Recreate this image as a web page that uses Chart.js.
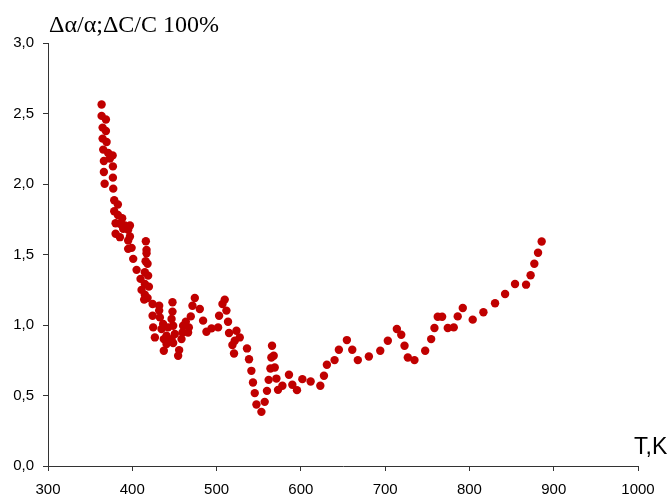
<!DOCTYPE html>
<html>
<head>
<meta charset="utf-8">
<script src="https://cdn.jsdelivr.net/npm/chart.js@4/dist/chart.umd.min.js"></script>
<style>
  html, body { margin: 0; padding: 0; background: #fff; }
  #wrap { width: 671px; height: 497px; position: relative; }
</style>
</head>
<body>
<div id="wrap"><canvas id="c"></canvas></div>
<script>
// T, K
const temps = [
  363.6, 363.6, 368.7, 364.8, 368.7, 364.8, 369.5, 365.5, 371.4, 376.7,
  366.3, 373.5, 377.0, 366.3, 377.0, 367.2, 377.4, 378.6, 382.9, 378.6,
  382.9, 388.0, 380.2, 385.3, 391.2, 397.2, 389.2, 395.1, 380.2, 385.3,
  397.2, 395.1, 416.1, 395.1, 399.2, 416.9, 416.9, 401.1, 415.8, 418.1,
  405.1, 414.9, 418.8, 409.8, 414.9, 419.7, 411.0, 414.9, 418.1, 414.1,
  424.1, 431.9, 431.9, 447.7, 447.7, 474.2, 471.4, 480.1, 509.7, 507.0,
  511.7, 424.1, 432.7, 446.6, 469.4, 503.0, 484.0, 513.6, 424.8, 436.6,
  448.5, 463.5, 460.3, 434.7, 442.5, 467.1, 466.2, 501.8, 494.0, 488.0,
  426.8, 440.6, 450.5, 459.6, 514.8, 523.6, 437.4, 446.6, 458.4, 527.5,
  521.6, 518.8, 440.6, 448.5, 455.6, 437.4, 454.4, 520.7, 536.1, 538.5,
  541.3, 543.2, 545.3, 547.3, 553.2, 557.1, 559.8, 561.8, 563.9, 569.0,
  565.0, 567.8, 565.8, 571.0, 572.9, 578.1, 585.9, 589.9, 595.4, 601.8,
  611.6, 623.1, 627.4, 630.9, 640.0, 645.1, 654.6, 661.0, 667.6, 680.7,
  694.2, 703.2, 713.9, 719.1, 723.0, 726.9, 734.8, 747.5, 754.6, 758.5,
  762.4, 767.6, 774.3, 781.4, 786.1, 792.1, 803.9, 816.6, 830.4, 842.3,
  854.1, 867.2, 872.6, 877.0, 881.4, 885.7
];
// Δα/α ; ΔC/C, 100%
const ratios = [
  2.564, 2.483, 2.457, 2.400, 2.376, 2.322, 2.298, 2.244, 2.220, 2.203,
  2.163, 2.180, 2.125, 2.085, 2.045, 2.002, 1.967, 1.885, 1.855, 1.807,
  1.780, 1.757, 1.722, 1.718, 1.706, 1.706, 1.682, 1.675, 1.647, 1.623,
  1.628, 1.599, 1.594, 1.540, 1.547, 1.533, 1.509, 1.469, 1.452, 1.434,
  1.391, 1.374, 1.350, 1.327, 1.291, 1.272, 1.249, 1.215, 1.192, 1.180,
  1.149, 1.137, 1.102, 1.161, 1.095, 1.192, 1.137, 1.114, 1.180, 1.149,
  1.102, 1.066, 1.054, 1.043, 1.061, 1.066, 1.031, 1.023, 0.983, 1.007,
  0.995, 1.023, 0.995, 0.972, 0.983, 0.983, 0.947, 0.983, 0.976, 0.952,
  0.912, 0.924, 0.936, 0.947, 0.943, 0.959, 0.900, 0.900, 0.900, 0.912,
  0.888, 0.858, 0.865, 0.872, 0.822, 0.817, 0.782, 0.798, 0.834, 0.757,
  0.675, 0.592, 0.517, 0.436, 0.384, 0.455, 0.533, 0.611, 0.692, 0.699,
  0.770, 0.782, 0.853, 0.620, 0.540, 0.569, 0.647, 0.576, 0.538, 0.616,
  0.599, 0.569, 0.640, 0.718, 0.751, 0.824, 0.893, 0.824, 0.751, 0.777,
  0.817, 0.888, 0.972, 0.931, 0.853, 0.770, 0.751, 0.817, 0.900, 0.979,
  1.059, 1.059, 0.979, 0.983, 1.061, 1.121, 1.038, 1.090, 1.154, 1.220,
  1.291, 1.286, 1.353, 1.434, 1.512, 1.592
];
const xTicks = { min: 300, max: 1000, step: 100 };
const yTicks = { min: 0, max: 3, step: 0.5 };
const yTitle = 'Δα/α;ΔC/C 100%';
const xTitle = 'T,K';

const axisColor = '#333';

// axis captions drawn as plain text (title top-left, T,K above the x axis end)
const captions = {
  id: 'captions',
  afterDraw(chart) {
    const ctx = chart.ctx;
    ctx.save();
    ctx.fillStyle = '#000';
    ctx.textBaseline = 'alphabetic';
    ctx.textAlign = 'left';
    ctx.font = '24px "Liberation Serif", "Times New Roman", serif';
    ctx.fillText(yTitle, 49, 32);
    ctx.font = '23px "Liberation Sans", Arial, sans-serif';
    ctx.fillText(xTitle, 634, 454);
    ctx.restore();
  }
};

new Chart(document.getElementById('c'), {
  type: 'scatter',
  data: {
    datasets: [{
      data: temps.map((t, i) => ({ x: t, y: ratios[i] })),
      backgroundColor: '#c00000',
      borderWidth: 0,
      pointRadius: 4.2,
      pointHoverRadius: 4.2
    }]
  },
  options: {
    responsive: true,
    maintainAspectRatio: false,
    animation: false,
    events: [],
    layout: { padding: { left: 0, top: 43, right: 33, bottom: 0 } },
    plugins: { legend: { display: false }, tooltip: { enabled: false } },
    scales: {
      x: {
        type: 'linear', min: xTicks.min, max: xTicks.max,
        afterFit(s) { s.height = 31; },
        border: { display: true, color: axisColor, width: 1 },
        grid: { display: true, drawOnChartArea: false, drawTicks: true, tickLength: 5, color: axisColor },
        ticks: { stepSize: xTicks.step, padding: 10, color: '#000',
          font: { family: '"Liberation Sans", Arial, sans-serif', size: 15 },
          callback: v => String(v) }
      },
      y: {
        type: 'linear', min: yTicks.min, max: yTicks.max,
        afterFit(s) { s.width = 48; },
        border: { display: true, color: axisColor, width: 1 },
        grid: { display: true, drawOnChartArea: false, drawTicks: true, tickLength: 5, color: axisColor },
        ticks: { stepSize: yTicks.step, padding: 9, color: '#000',
          font: { family: '"Liberation Sans", Arial, sans-serif', size: 15 },
          callback: v => v.toFixed(1).replace('.', ',') }
      }
    }
  },
  plugins: [captions]
});
</script>
</body>
</html>
